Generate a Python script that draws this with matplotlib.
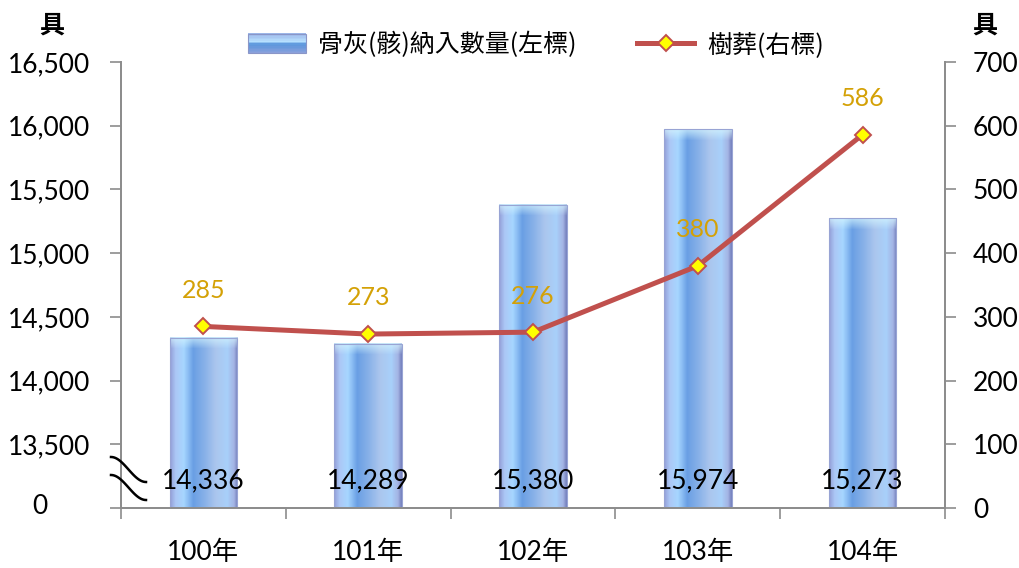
import numpy as np
import matplotlib
import matplotlib.pyplot as plt
from matplotlib.colors import LinearSegmentedColormap, to_rgb
from matplotlib.legend_handler import HandlerBase
from matplotlib.lines import Line2D
from matplotlib.patches import Rectangle

matplotlib.use("Agg")

# Data
years = ["100年", "101年", "102年", "103年", "104年"]
ash_counts = [14336, 14289, 15380, 15974, 15273]   # left axis
tree_burials = [285, 273, 276, 380, 586]           # right axis
left_ticks = [13000, 13500, 14000, 14500, 15000, 15500, 16000, 16500]
right_ticks = [0, 100, 200, 300, 400, 500, 600, 700]

LEFT_BASE = 13000
LINE_RED = "#C0504D"
LABEL_GOLD = "#D4A106"
AXIS_GRAY = "#8C8C8C"
NUM_FONT = ["Lato", "Noto Sans CJK TC", "DejaVu Sans"]
CJK_FONT = ["Noto Sans CJK TC", "DejaVu Sans"]

plt.rcParams["font.family"] = NUM_FONT

# horizontal gradient across a bar
BAR_STOPS = [
    (0.00, "#95a2da"),
    (0.08, "#acc8f6"),
    (0.20, "#a6d6ff"),
    (0.34, "#6a9fe4"),
    (0.50, "#86b0e8"),
    (0.68, "#abc6ee"),
    (0.85, "#a8d0fa"),
    (0.95, "#a4b4e4"),
    (1.00, "#7884c0"),
]
bar_cmap = LinearSegmentedColormap.from_list("bar", BAR_STOPS)
# vertical gradient for the legend swatch
SWATCH_STOPS = [(0.0, "#8ea2dc"), (0.45, "#5a96dc"), (0.6, "#b8e2ff"), (1.0, "#9cb4e8")]
swatch_cmap = LinearSegmentedColormap.from_list("swatch", SWATCH_STOPS)


class GradientHandler(HandlerBase):
    def create_artists(self, legend, orig_handle, xdescent, ydescent,
                       width, height, fontsize, trans):
        arts = []
        n = 14
        for i in range(n):
            arts.append(Rectangle((-xdescent, -ydescent + i * height / n), width,
                                  height / n + 0.3, facecolor=swatch_cmap((i + 0.5) / n),
                                  edgecolor="none", transform=trans))
        arts.append(Rectangle((-xdescent, -ydescent), width, height, fill=False,
                              edgecolor="#8a96c8", lw=0.8, transform=trans))
        return arts


def bar_image(h_px, w_px, bevel=11):
    cols = bar_cmap(np.linspace(0, 1, w_px))[:, :3]
    img = np.repeat(cols[None, :, :], h_px, axis=0)
    light = np.array(to_rgb("#d8f8ff"))
    for r in range(min(bevel, h_px)):
        f = 0.7 * (1 - r / bevel)
        img[r] = img[r] * (1 - f) + light * f
    return img


fig = plt.figure(figsize=(10.2, 5.68), dpi=100)
ax = fig.add_axes([121 / 1020, 1 - 508 / 568, 824 / 1020, 446 / 568])
ax2 = ax.twinx()

x = np.arange(len(years))
bar_w = 0.41
px_per_unit = 446 / (left_ticks[-1] - LEFT_BASE)
for xi, v in zip(x, ash_counts):
    h_px = int(round((v - LEFT_BASE) * px_per_unit))
    ax.imshow(bar_image(h_px, 68), extent=[xi - bar_w / 2, xi + bar_w / 2, LEFT_BASE, v],
              aspect="auto", origin="upper", zorder=2, interpolation="bilinear")
    ax.add_patch(Rectangle((xi - bar_w / 2, LEFT_BASE), bar_w, v - LEFT_BASE, fill=False,
                           edgecolor="#98a4d4", lw=0.8, zorder=3))
    ax.text(xi, LEFT_BASE + 210, f"{v:,}", ha="center", va="center", fontsize=19,
            color="black", zorder=4)

ax.set_xlim(-0.5, len(years) - 0.5)
ax.set_ylim(LEFT_BASE, left_ticks[-1])
ax.set_yticks(left_ticks)
ax.set_yticklabels([""] + [f"{t:,}" for t in left_ticks[1:]], fontsize=19)
ax.set_xticks(x)
ax.set_xticklabels(years, fontsize=19)
ax.set_xticks(np.arange(len(years) + 1) - 0.5, minor=True)
ax.tick_params(axis="x", which="major", length=0, pad=23)
ax.tick_params(axis="x", which="minor", length=8, width=1.2, color=AXIS_GRAY)
ax.tick_params(axis="y", length=8, width=1.2, color=AXIS_GRAY, pad=14)

ax2.plot(x, tree_burials, color=LINE_RED, lw=3.6, marker="D", markersize=8.5,
         markerfacecolor="#FFFF00", markeredgecolor=LINE_RED, markeredgewidth=1.4,
         zorder=5)
for xi, v in zip(x, tree_burials):
    ax2.annotate(str(v), (xi, v), xytext=(0, 26), textcoords="offset points",
                 ha="center", va="center", fontsize=18, color=LABEL_GOLD)
ax2.set_ylim(right_ticks[0], right_ticks[-1])
ax2.set_yticks(right_ticks)
ax2.set_yticklabels([str(t) for t in right_ticks], fontsize=19)
ax2.tick_params(axis="y", length=8, width=1.2, color=AXIS_GRAY, pad=12)

for a in (ax, ax2):
    a.spines["top"].set_visible(False)
    for s in ("left", "right", "bottom"):
        a.spines[s].set_color(AXIS_GRAY)
        a.spines[s].set_linewidth(1.3)

# zero label for the broken left axis
fig.text(40 / 1020, 1 - 506 / 568, "0", ha="center", va="center", fontsize=19)

# axis break marks
t = np.linspace(0, 1, 40)
for y0 in (457, 475):
    xs = 111 + 35 * t
    ys = y0 + 25 * (0.5 - 0.5 * np.cos(np.pi * t))
    fig.add_artist(Line2D(xs / 1020, 1 - ys / 568, color="black", lw=1.8,
                          transform=fig.transFigure))

# unit labels
fig.text(52 / 1020, 1 - 26 / 568, "具", ha="center", va="center", fontsize=18,
         fontweight="bold", family=CJK_FONT)
fig.text(985 / 1020, 1 - 26 / 568, "具", ha="center", va="center", fontsize=18,
         fontweight="bold", family=CJK_FONT)

bar_proxy = Rectangle((0, 0), 1, 1)
line_proxy = Line2D([], [], color=LINE_RED, lw=3.6, marker="D", markersize=8.5,
                    markerfacecolor="#FFFF00", markeredgecolor=LINE_RED,
                    markeredgewidth=1.4)
fig.legend([bar_proxy, line_proxy], ["骨灰(骸)納入數量(左標)", "樹葬(右標)"],
           handler_map={Rectangle: GradientHandler()}, loc="center",
           bbox_to_anchor=(536 / 1020, 1 - 45 / 568), ncol=2, frameon=False,
           prop={"family": CJK_FONT, "size": 18}, handlelength=2.3,
           handleheight=0.85, columnspacing=2.4, handletextpad=0.5)

fig.savefig("out.png", dpi=100)
